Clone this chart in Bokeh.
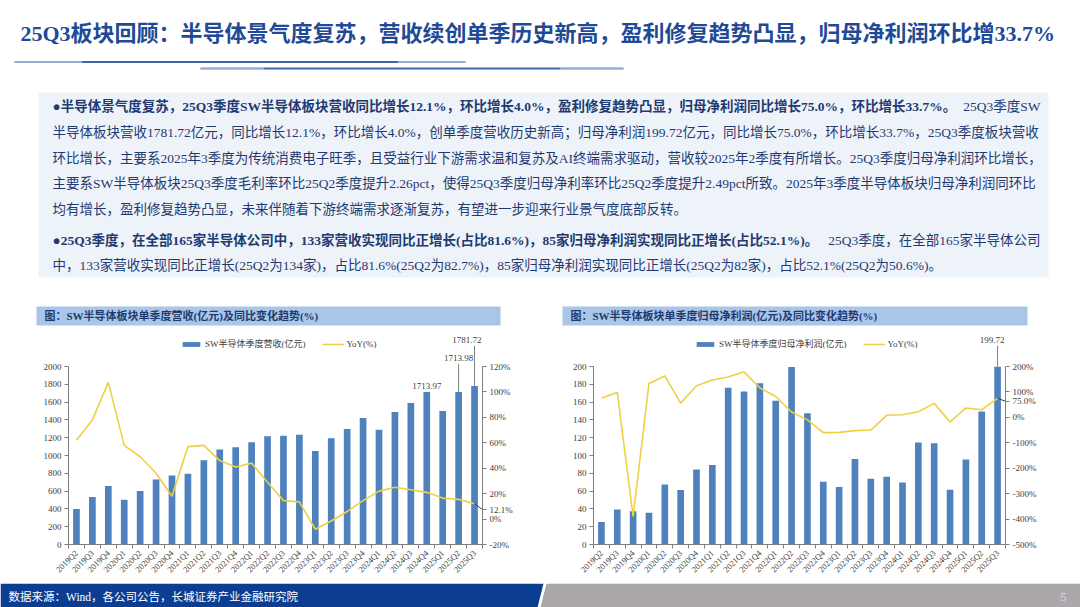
import math
from bokeh.plotting import figure
from bokeh.models import (Range1d, LinearAxis, FixedTicker, PrintfTickFormatter,
                          Legend, LegendItem)
from bokeh.layouts import column, row
from bokeh.core.properties import value
from bokeh.embed import file_html
from bokeh.resources import INLINE

# ---------------- data ----------------
quarters = ["2019Q2", "2019Q3", "2019Q4", "2020Q1", "2020Q2", "2020Q3", "2020Q4",
            "2021Q1", "2021Q2", "2021Q3", "2021Q4", "2022Q1", "2022Q2", "2022Q3",
            "2022Q4", "2023Q1", "2023Q2", "2023Q3", "2023Q4", "2024Q1", "2024Q2",
            "2024Q3", "2024Q4", "2025Q1", "2025Q2", "2025Q3"]
revenue = [400, 534, 657, 504, 601, 731, 776, 795, 948, 1067, 1093, 1149, 1216,
           1222, 1233, 1051, 1195, 1297, 1420, 1289, 1488, 1589, 1713.97, 1500,
           1713.98, 1781.72]
revenue_yoy = [62, 78, 107.5, 58, 49, 36, 18, 57, 58, 46, 41, 44, 29, 14.5, 13.5,
               -8, -1.5, 6, 14.5, 22, 25, 23, 21, 16.5, 15.5, 12.1]
profit = [25.4, 39.2, 37.3, 35.8, 67.5, 61.2, 84.3, 89.2, 176, 172, 181.3, 161.6,
          199.5, 147.5, 70.5, 64.5, 96, 74, 76, 69.6, 114.6, 113.8, 61.5, 95.5,
          149.4, 199.72]
profit_yoy = [76, 98, -390, 133, 163, 56, 124, 147, 159, 179, 116, 82, 21, -10, -60,
              -59, -52, -50, 8, 10, 22, 55, -18, 37, 30, 75.0]

rev_ticks = list(range(0, 2001, 200))
rev_pct_ticks = list(range(-20, 121, 20))
prof_ticks = list(range(0, 201, 20))
prof_pct_ticks = list(range(-500, 201, 100))

rev_labelled = [22, 24, 25]
prof_labelled = [25]

title_text = "25Q3板块回顾：半导体景气度复苏，营收续创单季历史新高，盈利修复趋势凸显，归母净利润环比增33.7%"
p1_bold = "●半导体景气度复苏，25Q3季度SW半导体板块营收同比增长12.1%，环比增长4.0%，盈利修复趋势凸显，归母净利润同比增长75.0%，环比增长33.7%。"
p1_tail = "25Q3季度SW"
p1_rest = [
    "半导体板块营收1781.72亿元，同比增长12.1%，环比增长4.0%，创单季度营收历史新高；归母净利润199.72亿元，同比增长75.0%，环比增长33.7%，25Q3季度板块营收",
    "环比增长，主要系2025年3季度为传统消费电子旺季，且受益行业下游需求温和复苏及AI终端需求驱动，营收较2025年2季度有所增长。25Q3季度归母净利润环比增长，",
    "主要系SW半导体板块25Q3季度毛利率环比25Q2季度提升2.26pct，使得25Q3季度归母净利率环比25Q2季度提升2.49pct所致。2025年3季度半导体板块归母净利润同环比",
    "均有增长，盈利修复趋势凸显，未来伴随着下游终端需求逐渐复苏，有望进一步迎来行业景气度底部反转。",
]
p2_bold = "●25Q3季度，在全部165家半导体公司中，133家营收实现同比正增长(占比81.6%)，85家归母净利润实现同比正增长(占比52.1%)。"
p2_tail = "25Q3季度，在全部165家半导体公司"
p2_rest = ["中，133家营收实现同比正增长(25Q2为134家)，占比81.6%(25Q2为82.7%)，85家归母净利润实现同比正增长(25Q2为82家)，占比52.1%(25Q2为50.6%)。"]
chart1_title = "图：SW半导体板块单季度营收(亿元)及同比变化趋势(%)"
chart2_title = "图：SW半导体板块单季度归母净利润(亿元)及同比变化趋势(%)"
source_text = "数据来源：Wind，各公司公告，长城证券产业金融研究院"
page_no = "5"

# ---------------- style ----------------
SERIF = "Liberation Serif, Noto Sans CJK SC"
NAVY = "#1F3A70"
TITLE_C = "#1F4A96"
BAR_C = "#4F81BD"
LINE_C = "#F0CF45"
AX_C = "#7F7F7F"
LBL_C = "#404040"

W = 1080

# ---------------- top part (title, text box, chart headers) ----------------
TOP_H = 328
top = figure(width=W, height=TOP_H, x_range=Range1d(0, W), y_range=Range1d(TOP_H, 0),
             output_backend="svg", toolbar_location=None, min_border=0,
             outline_line_color=None)
top.axis.visible = False
top.grid.visible = False

top.text(x=[20], y=[33], text=[title_text], text_font=value(SERIF),
         text_font_size="22px", text_font_style="bold", text_color=TITLE_C,
         text_baseline="middle", text_align="left")
# decorative lines under the title
for (xa, xb, yy) in [(14, 465, 61.5), (200, 623, 68)]:
    seg = (xb - xa) / 4.0
    top.segment(x0=[xa], y0=[yy], x1=[xb], y1=[yy],
                line_color="#2E54A0", line_width=2, line_alpha=0.9)
    top.segment(x0=[xa, xb - seg * 0.6], y0=[yy, yy], x1=[xa + seg * 0.6, xb],
                y1=[yy, yy], line_color="white", line_width=2, line_alpha=0.45)

# text box
top.quad(left=[38], right=[1048], top=[92], bottom=[277], fill_color="#EEF3FA",
         line_color=None)
FS = "13.5px"
top.text(x=[52], y=[106], text=[p1_bold], text_font=value(SERIF), text_font_size=FS,
         text_font_style="bold", text_color=NAVY, text_baseline="middle")
top.text(x=[1040], y=[106], text=[p1_tail], text_font=value(SERIF), text_font_size=FS,
         text_color=NAVY, text_baseline="middle", text_align="right")
top.text(x=[52] * len(p1_rest), y=[132 + 25.5 * i for i in range(len(p1_rest))],
         text=p1_rest, text_font=value(SERIF), text_font_size=FS, text_color=NAVY,
         text_baseline="middle")
top.text(x=[52], y=[240], text=[p2_bold], text_font=value(SERIF), text_font_size=FS,
         text_font_style="bold", text_color=NAVY, text_baseline="middle")
top.text(x=[1040], y=[240], text=[p2_tail], text_font=value(SERIF), text_font_size=FS,
         text_color=NAVY, text_baseline="middle", text_align="right")
top.text(x=[52], y=[265], text=p2_rest, text_font=value(SERIF), text_font_size=FS,
         text_color=NAVY, text_baseline="middle")

# chart header bars
top.quad(left=[36, 562], right=[500, 1027], top=[306, 306], bottom=[325, 325],
         fill_color="#A9C6E8", line_color=None)
top.text(x=[44, 570], y=[315.5, 315.5], text=[chart1_title, chart2_title],
         text_font=value(SERIF), text_font_size="11px", text_font_style="bold",
         text_color=NAVY, text_baseline="middle")

# ---------------- charts ----------------
PLOT_H = 178.0
FRAME_H = 216
BOTTOM = 39


def make_chart(vals, yoy, vticks, pticks, bar_label, bl, fw, br, legend_x,
               labelled, label_px, pct_drop):
    n = len(quarters)
    xs = list(range(n))
    v_lo, v_hi = vticks[0], vticks[-1]
    p_lo, p_hi = pticks[0], pticks[-1]
    v_top = v_lo + (v_hi - v_lo) * FRAME_H / PLOT_H
    p_top = p_lo + (p_hi - p_lo) * FRAME_H / PLOT_H
    upp = (v_hi - v_lo) / PLOT_H
    ppp = (p_hi - p_lo) / PLOT_H

    p = figure(frame_width=fw, frame_height=FRAME_H, min_border_left=bl,
               min_border_right=br, min_border_top=0, min_border_bottom=BOTTOM,
               x_range=Range1d(-0.5, n - 0.5), y_range=Range1d(v_lo, v_top),
               output_backend="svg", toolbar_location=None, outline_line_color=None)
    p.extra_y_ranges = {"pct": Range1d(p_lo, p_top)}
    p.grid.visible = False

    bars = p.vbar(x=xs, top=vals, width=0.42, fill_color=BAR_C, line_color=None)
    ln = p.line(x=xs, y=yoy, y_range_name="pct", line_color=LINE_C, line_width=1.6)

    # x axis (labels at category centres, tick marks between categories)
    xa = p.xaxis[0]
    xa.ticker = FixedTicker(ticks=xs, minor_ticks=[i - 0.5 for i in range(n + 1)])
    xa.major_label_overrides = {i: q for i, q in enumerate(quarters)}
    xa.major_tick_out = 0
    xa.major_tick_in = 0
    xa.minor_tick_out = 4
    xa.minor_tick_in = 0
    xa.minor_tick_line_color = AX_C
    xa.major_label_orientation = math.pi / 4
    xa.major_label_standoff = 3
    xa.major_label_text_font = SERIF
    xa.major_label_text_font_size = "8.5px"
    xa.major_label_text_color = LBL_C
    xa.axis_line_color = AX_C

    # left axis
    ya = p.yaxis[0]
    ya.ticker = FixedTicker(ticks=vticks)
    ya.bounds = (v_lo, v_hi)
    ya.major_tick_out = 4
    ya.major_tick_in = 0
    ya.minor_tick_line_color = None
    ya.major_label_standoff = 3
    ya.major_label_text_font = SERIF
    ya.major_label_text_font_size = "9px"
    ya.major_label_text_color = LBL_C
    ya.axis_line_color = AX_C
    ya.major_tick_line_color = AX_C

    # right axis; the latest YoY value is labelled just beside it
    last_tick = round(yoy[-1] - pct_drop * ppp, 3)
    ra = LinearAxis(y_range_name="pct", ticker=FixedTicker(ticks=pticks + [last_tick]),
                    formatter=PrintfTickFormatter(format="%d%%"), bounds=(p_lo, p_hi))
    ra.major_label_overrides = {last_tick: "%.1f%%" % yoy[-1]}
    ra.major_tick_out = 4
    ra.major_tick_in = 0
    ra.minor_tick_line_color = None
    ra.major_label_standoff = 3
    ra.major_label_text_font = SERIF
    ra.major_label_text_font_size = "9px"
    ra.major_label_text_color = LBL_C
    ra.axis_line_color = AX_C
    ra.major_tick_line_color = AX_C
    p.add_layout(ra, "right")
    p.segment(x0=[n - 1], y0=[yoy[-1]], x1=[n - 0.5], y1=[last_tick],
              y_range_name="pct", line_color="#404040", line_width=1)

    # legend
    leg = Legend(items=[LegendItem(label=bar_label, renderers=[bars]),
                        LegendItem(label="YoY(%)", renderers=[ln])],
                 orientation="horizontal", location=(legend_x, 194),
                 background_fill_alpha=0, border_line_color=None,
                 glyph_width=22, glyph_height=6, label_height=10,
                 label_text_font=SERIF, label_text_font_size="9px",
                 label_text_color=LBL_C, spacing=16, padding=0, margin=0,
                 label_standoff=3)
    p.add_layout(leg, "center")

    # value labels
    for i, px in zip(labelled, label_px):
        at_edge = i == n - 1
        p.text(x=[n - 0.5 if at_edge else i], y=[vals[i] + px * upp],
               text=["%.2f" % vals[i]], x_offset=-1 if at_edge else 0,
               text_font=value(SERIF), text_font_size="9px", text_color=LBL_C,
               text_align="right" if at_edge else "center", text_baseline="bottom")
        if px > 10:
            p.segment(x0=[i], y0=[vals[i]], x1=[i], y1=[vals[i] + (px - 3) * upp],
                      line_color=AX_C, line_width=1)
    return p


left = make_chart(revenue, revenue_yoy, rev_ticks, rev_pct_ticks, "SW半导体季度营收(亿元)",
                  68, 414, 58, 112, rev_labelled, [3, 31, 43], 6)
right = make_chart(profit, profit_yoy, prof_ticks, prof_pct_ticks,
                   "SW半导体季度归母净利润(亿元)", 53, 412, 75, 101, prof_labelled, [24], 3)

# ---------------- footer ----------------
foot = figure(width=W, height=24, x_range=Range1d(0, W), y_range=Range1d(607, 583),
              output_backend="svg", toolbar_location=None, min_border=0,
              outline_line_color=None)
foot.axis.visible = False
foot.grid.visible = False
foot.patch(x=[0, 543, 537, 0], y=[583, 583, 607, 607], fill_color="#0B3E91",
           line_color=None)
foot.patch(x=[546, 1080, 1080, 540], y=[583, 583, 607, 607], fill_color="#ABA7AA",
           line_color=None)
foot.text(x=[8], y=[596], text=[source_text], text_font=value(SERIF),
          text_font_size="11.5px", text_color="white", text_baseline="middle")
foot.text(x=[1066], y=[596], text=[page_no], text_font=value(SERIF),
          text_font_size="13px", text_color="#D9D9D9", text_baseline="middle",
          text_align="right")

page = column(top, row(left, right, spacing=0), foot, spacing=0)
open("out.html", "w").write(file_html(page, INLINE))
